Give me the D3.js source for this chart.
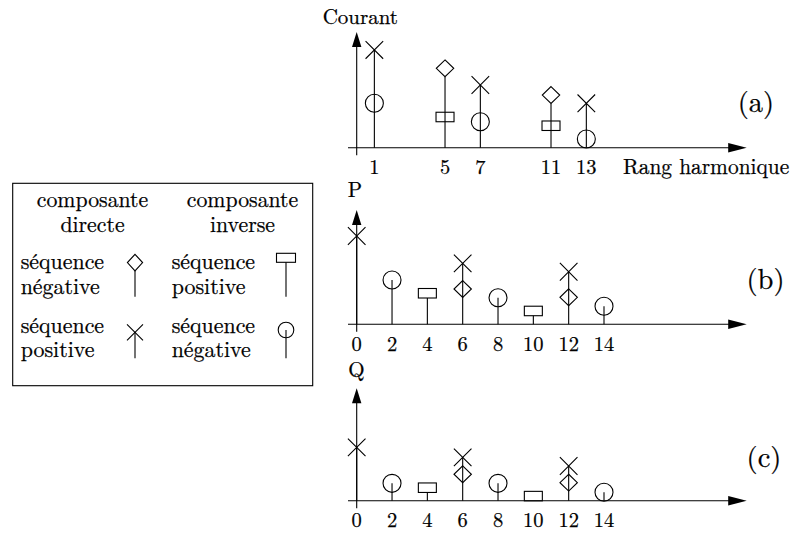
<!DOCTYPE html>
<html><head><meta charset="utf-8">
<script src="https://cdn.jsdelivr.net/npm/d3@7"></script>
<style>
body{margin:0;background:#fff;}
</style></head>
<body><svg id="chart" width="795" height="536"></svg>
<script>
// ---------- data ----------
// Panel (a): current harmonics
const ticksA = [1, 5, 7, 11, 13];
const aDirPos_h = [1, 7, 13],  aDirPos_v = [85, 54.5, 38.6];   // X : direct, positive seq.
const aDirNeg_h = [5, 11],     aDirNeg_v = [69, 45.8];         // diamond : direct, negative seq.
const aInvPos_h = [5, 11],     aInvPos_v = [26.7, 19.1];       // rect : inverse, positive seq.
const aInvNeg_h = [1, 7, 13],  aInvNeg_v = [38.6, 22.6, 7.6];  // circle : inverse, negative seq.
// Panel (b): P
const ticksB = [0, 2, 4, 6, 8, 10, 12, 14];
const bDirPos_h = [0, 6, 12],  bDirPos_v = [76.8, 53, 45.7];
const bDirNeg_h = [6, 12],     bDirNeg_v = [30.7, 23.5];
const bInvPos_h = [4, 10],     bInvPos_v = [27, 11.6];
const bInvNeg_h = [2, 8, 14],  bInvNeg_v = [38.5, 23.1, 15.7];
// Panel (c): Q
const ticksC = [0, 2, 4, 6, 8, 10, 12, 14];
const cDirPos_h = [0, 6, 12],  cDirPos_v = [46.4, 37.7, 30.2];
const cDirNeg_h = [6, 12],     cDirNeg_v = [23, 15.7];
const cInvPos_h = [4, 10],     cInvPos_v = [11.3, 4];
const cInvNeg_h = [2, 8, 14],  cInvNeg_v = [15.1, 15.1, 7.3];

const axisTitles = ["Courant", "P", "Q"];
const panelTags = ["(a)", "(b)", "(c)"];
const xAxisTitle = "Rang harmonique";
const legendHeaders = [["composante", "directe"], ["composante", "inverse"]];
const legendRows = [
  [["séquence", "négative"], "diamond", ["séquence", "positive"], "rect"],
  [["séquence", "positive"], "cross", ["séquence", "négative"], "circle"]
];

// ---------- drawing ----------
const FONT = "Latin Modern Roman";
const svg = d3.select("#chart");
const x = d3.scaleLinear().domain([0, 14]).range([356.7, 604]);
const PXU = 1.15;

const panels = [
  {base: 147.7, top: 100.6, ticks: ticksA, series: [
    ["cross", aDirPos_h, aDirPos_v], ["diamond", aDirNeg_h, aDirNeg_v],
    ["rect", aInvPos_h, aInvPos_v], ["circle", aInvNeg_h, aInvNeg_v]]},
  {base: 324.3, top: 99.4, ticks: ticksB, series: [
    ["cross", bDirPos_h, bDirPos_v], ["diamond", bDirNeg_h, bDirNeg_v],
    ["rect", bInvPos_h, bInvPos_v], ["circle", bInvNeg_h, bInvNeg_v]]},
  {base: 500.7, top: 97.7, ticks: ticksC, series: [
    ["cross", cDirPos_h, cDirPos_v], ["diamond", cDirNeg_h, cDirNeg_v],
    ["rect", cInvPos_h, cInvPos_v], ["circle", cInvNeg_h, cInvNeg_v]]}
];

const SZ = {cross: 8.8, dw: 8.7, dh: 8.4, rw: 18, rh: 9.5, r: 9};

function txt(g, xx, yy, size, s, anchor) {
  return g.append("text").attr("x", xx).attr("y", yy).attr("font-size", size)
    .attr("font-family", FONT).attr("fill", "#000")
    .attr("stroke", "#000").attr("stroke-width", 0.25)
    .attr("text-anchor", anchor || "start").text(s);
}

function drawMarker(g, type, cx, cy, s) {
  s = s || SZ;
  let el;
  if (type === "cross") {
    el = g.append("path").attr("d",
      `M${cx - s.cross},${cy - s.cross}L${cx + s.cross},${cy + s.cross}M${cx - s.cross},${cy + s.cross}L${cx + s.cross},${cy - s.cross}`);
  } else if (type === "diamond") {
    el = g.append("path").attr("d",
      `M${cx},${cy - s.dh}L${cx + s.dw},${cy}L${cx},${cy + s.dh}L${cx - s.dw},${cy}Z`);
  } else if (type === "rect") {
    el = g.append("rect").attr("x", cx - s.rw / 2).attr("y", cy - s.rh / 2)
      .attr("width", s.rw).attr("height", s.rh);
  } else {
    el = g.append("circle").attr("cx", cx).attr("cy", cy).attr("r", s.r);
  }
  el.attr("stroke", "#000").attr("stroke-width", 1.1).attr("fill", "none");
}
function attachY(type, cy, s) {
  s = s || SZ;
  if (type === "diamond") return cy + s.dh;
  if (type === "rect") return cy + s.rh / 2;
  return cy;
}

panels.forEach((p, i) => {
  const y = d3.scaleLinear().domain([0, 100]).range([p.base, p.base - 100 * PXU]);
  const g = svg.append("g");
  const xEnd = 746.7;
  g.append("line").attr("x1", 348).attr("x2", xEnd - 17).attr("y1", p.base).attr("y2", p.base)
    .attr("stroke", "#000").attr("stroke-width", 1.1);
  g.append("path").attr("d", `M${xEnd},${p.base}L${xEnd - 18.5},${p.base - 4.7}L${xEnd - 18.5},${p.base + 4.7}Z`)
    .attr("fill", "#000");
  const yTop = y(p.top);
  g.append("line").attr("x1", x(0)).attr("x2", x(0)).attr("y1", p.base + 7.5).attr("y2", yTop + 14)
    .attr("stroke", "#000").attr("stroke-width", 1.1);
  g.append("path").attr("d", `M${x(0)},${yTop}L${x(0) - 4.7},${yTop + 15}L${x(0) + 4.7},${yTop + 15}Z`)
    .attr("fill", "#000");
  p.ticks.forEach(d => txt(g, x(d), p.base + 26.5, 20.5, String(d), "middle"));
  const marks = [];
  p.series.forEach(([type, hs, vs]) => hs.forEach((h, k) => marks.push({type, h, v: vs[k]})));
  const groups = d3.group(marks, d => d.h);
  groups.forEach((ms, h) => {
    const topY = d3.min(ms, m => attachY(m.type, y(m.v)));
    g.append("line").attr("x1", x(h)).attr("x2", x(h)).attr("y1", p.base).attr("y2", topY)
      .attr("stroke", "#000").attr("stroke-width", 1.1);
  });
  marks.forEach(m => drawMarker(g, m.type, x(m.h), y(m.v)));
  const tagPos = [[756, 112], [765.5, 288.5], [764, 466.5]][i];
  txt(g, tagPos[0], tagPos[1], 28.5, panelTags[i], "middle");
});

txt(svg, 322.7, 24, 21, axisTitles[0], "start");
txt(svg, 355, 196.7, 21, axisTitles[1], "middle");
txt(svg, 356.5, 376.5, 21, axisTitles[2], "middle");
txt(svg, 623, 174, 21.4, xAxisTitle, "start");

// legend
const lg = svg.append("g");
lg.append("rect").attr("x", 12.7).attr("y", 183.3).attr("width", 300).attr("height", 202.4)
  .attr("fill", "none").attr("stroke", "#000").attr("stroke-width", 1.1);
const colCenters = [92.5, 242.5];
legendHeaders.forEach((hdr, c) => {
  txt(lg, colCenters[c], 207, 21.8, hdr[0], "middle");
  txt(lg, colCenters[c], 231.5, 21.8, hdr[1], "middle");
});
const LS = {cross: 8, dw: 7.6, dh: 8.3, rw: 19, rh: 9, r: 7.8};
const textX = [20.7, 171.7], symX = [135, 286];
legendRows.forEach((row, r) => {
  const b1 = 269.3 + r * 63.4;
  [0, 1].forEach(c => {
    const words = row[c * 2], type = row[c * 2 + 1];
    words.forEach((w, k) => txt(lg, textX[c], b1 + k * 24.2, 21.9, w, "start"));
    const stemBottom = 296.7 + r * 61.6;
    const cy = {diamond: 262.6, rect: 257.8, cross: 332.3, circle: 330}[type];
    lg.append("line").attr("x1", symX[c]).attr("x2", symX[c]).attr("y1", stemBottom)
      .attr("y2", attachY(type, cy, LS)).attr("stroke", "#000").attr("stroke-width", 1.1);
    drawMarker(lg, type, symX[c], cy, LS);
  });
});
</script></body></html>
